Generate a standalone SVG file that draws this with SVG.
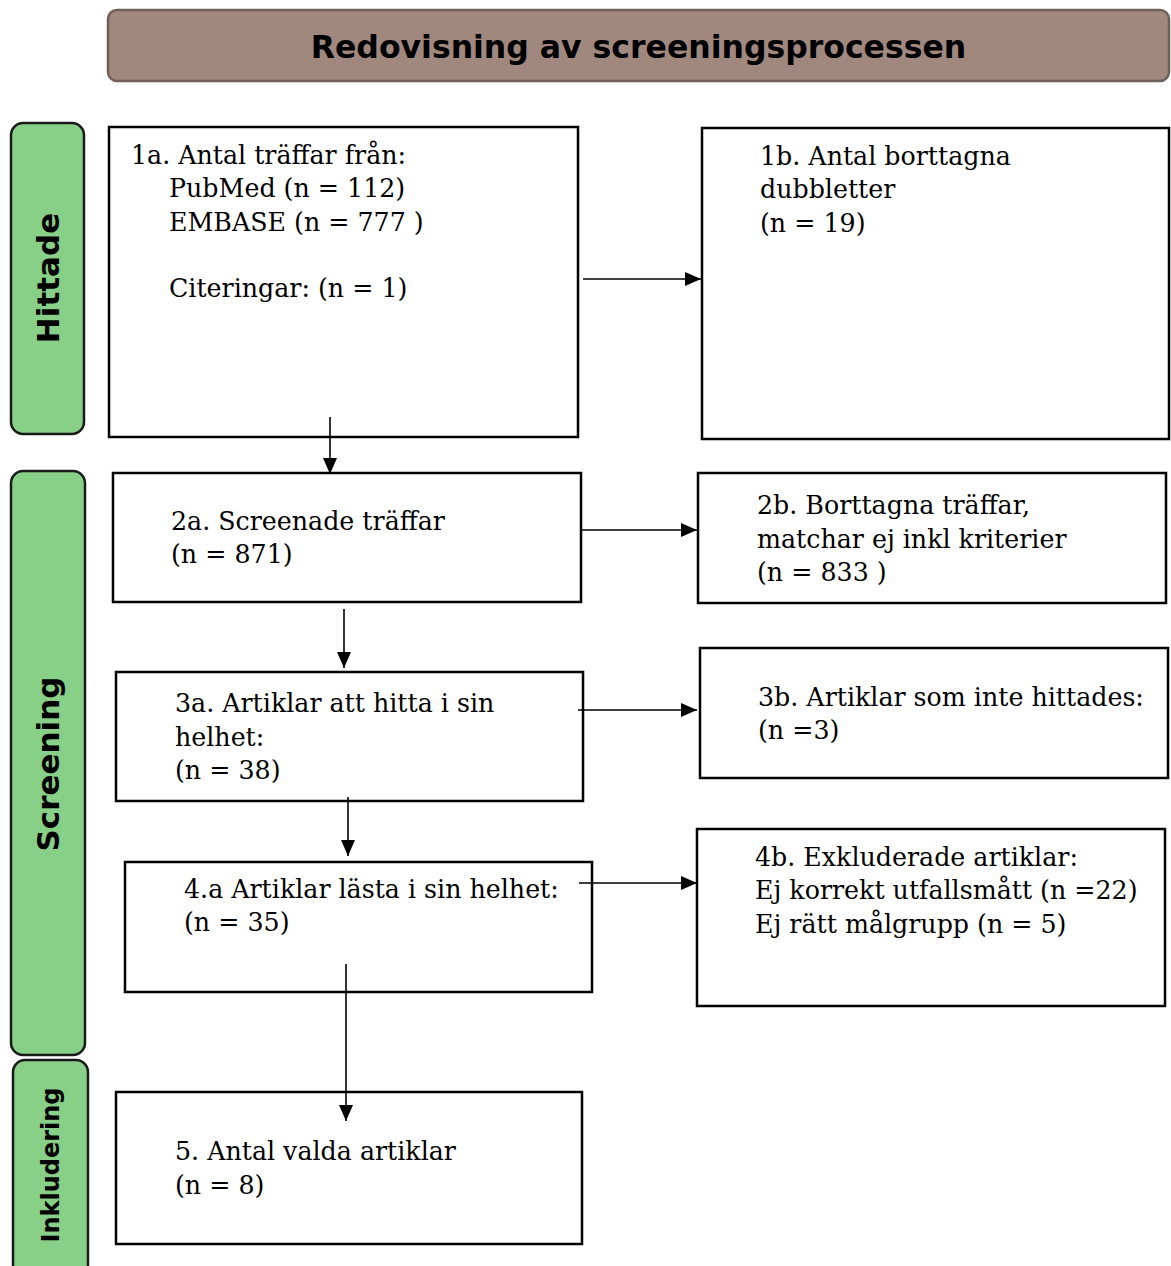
<svg xmlns="http://www.w3.org/2000/svg" width="1171" height="1266" viewBox="0 0 1171 1266">
<style>
.box{fill:#fff;stroke:#000;stroke-width:2.5}
.bar{fill:#88cf88;stroke:#1a1a1a;stroke-width:2.5}
.t{font-family:"DejaVu Serif","Liberation Serif",serif;font-size:25.3px;fill:#000}
.bt{font-family:"DejaVu Sans","Liberation Sans",sans-serif;font-weight:bold;fill:#000}
.c{stroke:#000;stroke-width:1.6;fill:none;marker-end:url(#ah)}
</style>
<defs>
<marker id="ah" viewBox="0 0 16 14" refX="16" refY="7" markerWidth="16" markerHeight="14" markerUnits="userSpaceOnUse" orient="auto"><path d="M0,0 L16,7 L0,14 Z" fill="#000"/></marker>
</defs>
<rect width="1171" height="1266" fill="#fff"/>
<g id="title">
<rect x="108" y="10" width="1061" height="71" rx="9" fill="#a1887e" stroke="#6f6059" stroke-width="2.5"/>
<text class="bt" x="638.5" y="58" font-size="31.5" text-anchor="middle">Redovisning av screeningsprocessen</text>
</g>
<g id="lane-hittade">
<rect class="bar" x="11" y="123" width="73" height="311" rx="12"/>
<text class="bt" font-size="31" text-anchor="middle" transform="translate(59,278) rotate(-90)">Hittade</text>
</g>
<g id="lane-screening">
<rect class="bar" x="11" y="471" width="74" height="584" rx="12"/>
<text class="bt" font-size="31" text-anchor="middle" transform="translate(59,764) rotate(-90)">Screening</text>
</g>
<g id="lane-inkludering">
<rect class="bar" x="13" y="1060" width="75" height="230" rx="12"/>
<text class="bt" font-size="24" text-anchor="middle" transform="translate(59,1165) rotate(-90)">Inkludering</text>
</g>
<g id="n1a">
<rect class="box" x="109" y="127" width="469" height="310"/>
<text class="t" x="131" y="164">1a. Antal träffar från:</text>
<text class="t" x="169" y="197">PubMed (n = 112)</text>
<text class="t" x="169" y="231">EMBASE (n = 777 )</text>
<text class="t" x="169" y="297">Citeringar: (n = 1)</text>
</g>
<g id="n1b">
<rect class="box" x="702" y="128" width="467" height="311"/>
<text class="t" x="760" y="165">1b. Antal borttagna</text>
<text class="t" x="760" y="198">dubbletter</text>
<text class="t" x="760" y="232">(n = 19)</text>
</g>
<g id="n2a">
<rect class="box" x="113" y="473" width="468" height="129"/>
<text class="t" x="171" y="530">2a. Screenade träffar</text>
<text class="t" x="171" y="563">(n = 871)</text>
</g>
<g id="n2b">
<rect class="box" x="698" y="473" width="468" height="130"/>
<text class="t" x="757" y="514">2b. Borttagna träffar,</text>
<text class="t" x="757" y="548">matchar ej inkl kriterier</text>
<text class="t" x="757" y="581">(n = 833 )</text>
</g>
<g id="n3a">
<rect class="box" x="116" y="672" width="467" height="129"/>
<text class="t" x="175" y="712">3a. Artiklar att hitta i sin</text>
<text class="t" x="175" y="746">helhet:</text>
<text class="t" x="175" y="779">(n = 38)</text>
</g>
<g id="n3b">
<rect class="box" x="700" y="648" width="468" height="130"/>
<text class="t" x="758" y="706">3b. Artiklar som inte hittades:</text>
<text class="t" x="758" y="739">(n =3)</text>
</g>
<g id="n4a">
<rect class="box" x="125" y="862" width="467" height="130"/>
<text class="t" x="184" y="898">4.a Artiklar lästa i sin helhet:</text>
<text class="t" x="184" y="931">(n = 35)</text>
</g>
<g id="n4b">
<rect class="box" x="697" y="829" width="468" height="177"/>
<text class="t" x="755" y="866">4b. Exkluderade artiklar:</text>
<text class="t" x="755" y="899">Ej korrekt utfallsmått (n =22)</text>
<text class="t" x="755" y="933">Ej rätt målgrupp (n = 5)</text>
</g>
<g id="n5">
<rect class="box" x="116" y="1092" width="466" height="152"/>
<text class="t" x="175" y="1160">5. Antal valda artiklar</text>
<text class="t" x="175" y="1194">(n = 8)</text>
</g>
<g id="connectors">
<line class="c" x1="583" y1="279" x2="701" y2="279"/>
<line class="c" x1="330" y1="417" x2="330" y2="474"/>
<line class="c" x1="581" y1="530" x2="697" y2="530"/>
<line class="c" x1="344" y1="609" x2="344" y2="668"/>
<line class="c" x1="578" y1="710" x2="697" y2="710"/>
<line class="c" x1="348" y1="797" x2="348" y2="856"/>
<line class="c" x1="579" y1="883" x2="697" y2="883"/>
<line class="c" x1="346" y1="964" x2="346" y2="1121"/>
</g>
</svg>
